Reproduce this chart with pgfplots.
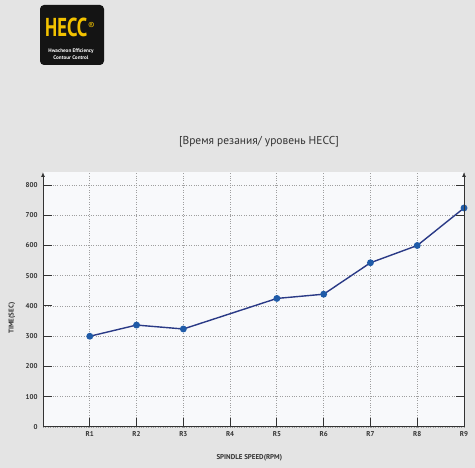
\documentclass[border=0pt]{standalone}
\usepackage{pgfplots}
\pgfplotsset{compat=1.18}
\usetikzlibrary{arrows.meta}
\usepackage{fontspec}
\setmainfont{PT Sans}
\definecolor{bg}{HTML}{E4E4E4}
\definecolor{plotbg}{HTML}{F8F9FB}
\definecolor{navy}{HTML}{2A3A86}
\definecolor{markblue}{HTML}{1F5BA8}
\definecolor{txt}{HTML}{333333}
\definecolor{hecc}{HTML}{F2C200}
\begin{document}
\begin{tikzpicture}[x=1bp,y=1bp]
\fill[bg] (0,0) rectangle (475,468);
% logo
\fill[black!92, rounded corners=4bp] (40,403) rectangle (104,463);
\node[hecc, inner sep=0, anchor=west] at (45,441) {\scalebox{0.72}[1]{\fontsize{26}{26}\selectfont\bfseries HECC}\hspace{0.5bp}\raisebox{7bp}{\fontsize{10}{10}\selectfont ®}};
\node[white, inner sep=0, align=center, font=\fontsize{5.2}{6.5}\selectfont\bfseries] at (71,414) {Hwacheon Efficiency\\Contour Control};
% main axis
\begin{axis}[
  at={(43bp,41bp)}, anchor=south west,
  scale only axis, width=421bp, height=255bp,
  xmin=0, xmax=9, ymin=0, ymax=843,
  axis background/.style={fill=plotbg},
  axis x line=bottom, axis y line=left,
  x axis line style={-, line width=1bp, txt},
  y axis line style={-{Latex[length=5bp,width=4bp]}, line width=1bp, txt},
  xtick={1,...,9}, xticklabels={R1,R2,R3,R4,R5,R6,R7,R8,R9},
  ytick={0,100,...,800},
  tick align=inside, major tick length=8.5bp,
  tick style={line width=1bp, txt},
  grid=major, major grid style={dotted, line width=0.8bp, gray!75},
  /pgf/number format/assume math mode=true,
  ticklabel style={font=\fontsize{7}{8}\selectfont\bfseries, text=txt},
  yticklabel style={xshift=-2bp},
  xticklabel style={yshift=-1bp},
  title={[Время резания/ уровень HECC]},
  title style={at={(axis description cs:0.513,1)}, anchor=center, yshift=24bp,
    font=\fontsize{11.5}{12}\selectfont, text=txt},
  xlabel={SPINDLE SPEED(RPM)},
  xlabel style={at={(axis description cs:0.49,0)}, anchor=center, yshift=-31bp,
    font=\fontsize{7}{8}\selectfont\bfseries, text=txt},
  ylabel={TIME(SEC)},
  ylabel style={at={(axis description cs:-0.074,0.427)}, anchor=center, rotate=0,
    font=\fontsize{7}{8}\selectfont\bfseries, text=txt},
]
\addplot[navy, line width=1.4bp, mark=*, mark size=2.7bp,
  mark options={fill=markblue, draw=markblue}]
  coordinates {(1,300) (2,337) (3,324) (5,425) (6,439) (7,543) (8,600) (9,724)};
\end{axis}
% right axis
\begin{axis}[
  at={(43bp,41bp)}, anchor=south west,
  scale only axis, width=421bp, height=255bp,
  xmin=0, xmax=9, ymin=0, ymax=843,
  axis x line=none, axis y line=right,
  y axis line style={-{Latex[length=5bp,width=4bp]}, line width=1bp, txt},
  ytick={100,200,...,800}, yticklabels={},
  tick align=inside, major tick length=8.5bp,
  tick style={line width=1bp, txt},
]
\addplot[draw=none] coordinates {(0,0)};
\end{axis}
\end{tikzpicture}
\end{document}
